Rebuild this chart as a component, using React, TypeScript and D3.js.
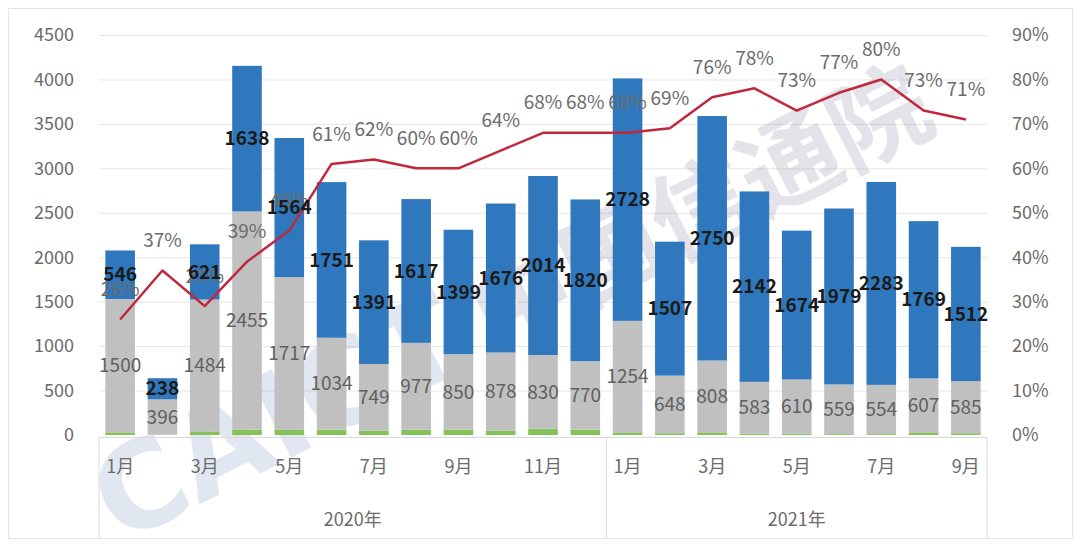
// @ts-nocheck
import * as d3 from "d3"
import { useEffect, useRef } from "react"
import * as React from "react"

const months = ["1月","2月","3月","4月","5月","6月","7月","8月","9月","10月","11月","12月","1月","2月","3月","4月","5月","6月","7月","8月","9月"]
const years = [
  { name: "2020年", start: 0, end: 12 },
  { name: "2021年", start: 12, end: 21 },
]
const greenValues = [30, 5, 40, 60, 60, 60, 50, 60, 60, 50, 70, 60, 30, 20, 30, 15, 15, 10, 10, 30, 20]
const grayValues = [1500, 396, 1484, 2455, 1717, 1034, 749, 977, 850, 878, 830, 770, 1254, 648, 808, 583, 610, 559, 554, 607, 585]
const blueValues = [546, 238, 621, 1638, 1564, 1751, 1391, 1617, 1399, 1676, 2014, 1820, 2728, 1507, 2750, 2142, 1674, 1979, 2283, 1769, 1512]
const shareValues = [26, 37, 29, 39, 46, 61, 62, 60, 60, 64, 68, 68, 68, 69, 76, 78, 73, 77, 80, 73, 71]
const leftTicks = [0, 500, 1000, 1500, 2000, 2500, 3000, 3500, 4000, 4500]
const rightTicks = [0, 10, 20, 30, 40, 50, 60, 70, 80, 90]

const FONT = "'Noto Sans CJK SC', 'Noto Sans', sans-serif"

function buildSVG(svgEl) {
  const width = 1080
  const height = 547
  const left = 99, right = 987, top = 35, bottom = 435

  const svg = d3.select(svgEl)
  svg.selectAll("*").remove()
  svg.attr("width", width).attr("height", height).style("display", "block")
    .style("font-family", FONT)

  svg.append("rect").attr("x", 0).attr("y", 0).attr("width", width).attr("height", height).attr("fill", "#fff")
  svg.append("rect").attr("x", 8.5).attr("y", 8.5).attr("width", 1064).attr("height", 530)
    .attr("fill", "none").attr("stroke", "#e4e4e4")

  const x = d3.scaleBand().domain(d3.range(months.length)).range([left, right]).paddingInner(0.3).paddingOuter(0.15)
  const y = d3.scaleLinear().domain([0, 4500]).range([bottom, top])
  const yR = d3.scaleLinear().domain([0, 90]).range([bottom, top])

  // grid
  svg.append("g").selectAll("line").data(leftTicks.slice(1)).join("line")
    .attr("x1", left).attr("x2", right)
    .attr("y1", d => y(d) + 0.5).attr("y2", d => y(d) + 0.5)
    .attr("stroke", "#e6e6e6").attr("stroke-width", 1)

  // left axis labels
  svg.append("g").selectAll("text").data(leftTicks).join("text")
    .attr("x", 74).attr("y", d => y(d)).attr("dy", "0.35em")
    .attr("text-anchor", "end").attr("fill", "#6b6b6b").style("font-size", "18px")
    .text(d => d)

  // right axis labels
  svg.append("g").selectAll("text").data(rightTicks).join("text")
    .attr("x", 1012).attr("y", d => yR(d)).attr("dy", "0.35em")
    .attr("text-anchor", "start").attr("fill", "#6b6b6b").style("font-size", "18px")
    .text(d => d + "%")

  // watermark
  const wm = svg.append("g").attr("transform", "translate(120,545) rotate(-27)").attr("opacity", 0.16)
  wm.append("text").attr("x", 0).attr("y", 0)
    .attr("fill", "#4a6fa8").style("font-size", "120px").style("font-weight", "bold")
    .style("font-family", "'DejaVu Sans', sans-serif")
    .text("CAICT")
  wm.append("text").attr("x", 420).attr("y", 0)
    .attr("fill", "#5a5a7a").style("font-size", "100px").style("font-weight", "bold")
    .text("中国信通院")

  const stack = months.map((m, i) => {
    const g0 = 0, g1 = greenValues[i]
    const gr1 = g1 + grayValues[i]
    const b1 = gr1 + blueValues[i]
    return { i, g0, g1, gr1, b1 }
  })

  const bars = svg.append("g")
  bars.selectAll(".green").data(stack).join("rect")
    .attr("x", d => x(d.i)).attr("width", x.bandwidth())
    .attr("y", d => y(d.g1)).attr("height", d => y(d.g0) - y(d.g1))
    .attr("fill", "#86c25a")
  bars.selectAll(".gray").data(stack).join("rect")
    .attr("x", d => x(d.i)).attr("width", x.bandwidth())
    .attr("y", d => y(d.gr1)).attr("height", d => y(d.g1) - y(d.gr1))
    .attr("fill", "#c0c0c0")
  bars.selectAll(".blue").data(stack).join("rect")
    .attr("x", d => x(d.i)).attr("width", x.bandwidth())
    .attr("y", d => y(d.b1)).attr("height", d => y(d.gr1) - y(d.b1))
    .attr("fill", "#2f78bd")

  // x axis line + separators
  svg.append("line").attr("x1", left).attr("x2", right).attr("y1", 437.5).attr("y2", 437.5)
    .attr("stroke", "#d9d9d9")
  const seps = [0, 12, 21].map(i => i === 21 ? right : (i === 0 ? left : x(i) - x.step() * x.paddingInner() / 2))
  svg.append("g").selectAll("line").data(seps).join("line")
    .attr("x1", d => d).attr("x2", d => d).attr("y1", 437).attr("y2", 538)
    .attr("stroke", "#d9d9d9")

  // month labels (every other)
  svg.append("g").selectAll("text").data(months.map((m, i) => ({ m, i })).filter(d => (d.i < 12 ? d.i : d.i - 12) % 2 === 0)).join("text")
    .attr("x", d => x(d.i) + x.bandwidth() / 2).attr("y", 467).attr("dy", "0.35em")
    .attr("text-anchor", "middle").attr("fill", "#6b6b6b").style("font-size", "18px")
    .text(d => d.m)

  svg.append("g").selectAll("text").data(years).join("text")
    .attr("x", d => ((d.start === 0 ? left : seps[1]) + (d.end === 21 ? right : seps[1])) / 2)
    .attr("y", 520).attr("dy", "0.35em")
    .attr("text-anchor", "middle").attr("fill", "#6b6b6b").style("font-size", "18px")
    .text(d => d.name)

  // gray labels
  svg.append("g").selectAll("text").data(stack).join("text")
    .attr("x", d => x(d.i) + x.bandwidth() / 2).attr("y", d => y((d.g1 + d.gr1) / 2)).attr("dy", "0.35em")
    .attr("text-anchor", "middle").attr("fill", "#606060").style("font-size", "19px")
    .text(d => grayValues[d.i])

  // line
  const cx = i => x(i) + x.bandwidth() / 2
  const line = d3.line().x((d, i) => cx(i)).y(d => yR(d))
  svg.append("path").datum(shareValues).attr("d", line)
    .attr("fill", "none").attr("stroke", "#c0283e").attr("stroke-width", 2.5).attr("stroke-linejoin", "round")

  // percent labels
  svg.append("g").selectAll("text").data(shareValues).join("text")
    .attr("x", (d, i) => cx(i)).attr("y", d => yR(d) - 30).attr("dy", "0.35em")
    .attr("text-anchor", "middle").attr("fill", "#6b6b6b").style("font-size", "19px")
    .text(d => d + "%")

  // blue labels
  svg.append("g").selectAll("text").data(stack).join("text")
    .attr("x", d => x(d.i) + x.bandwidth() / 2).attr("y", d => y((d.gr1 + d.b1) / 2)).attr("dy", "0.35em")
    .attr("text-anchor", "middle").attr("fill", "#1a1a1a").style("font-size", "19px").style("font-weight", "bold")
    .text(d => blueValues[d.i])
}

export default function App() {
  const ref = useRef(null)
  useEffect(() => {
    buildSVG(ref.current)
  }, [])
  return <svg ref={ref} style={{ position: "absolute", left: 0, top: 0 }} />
}
